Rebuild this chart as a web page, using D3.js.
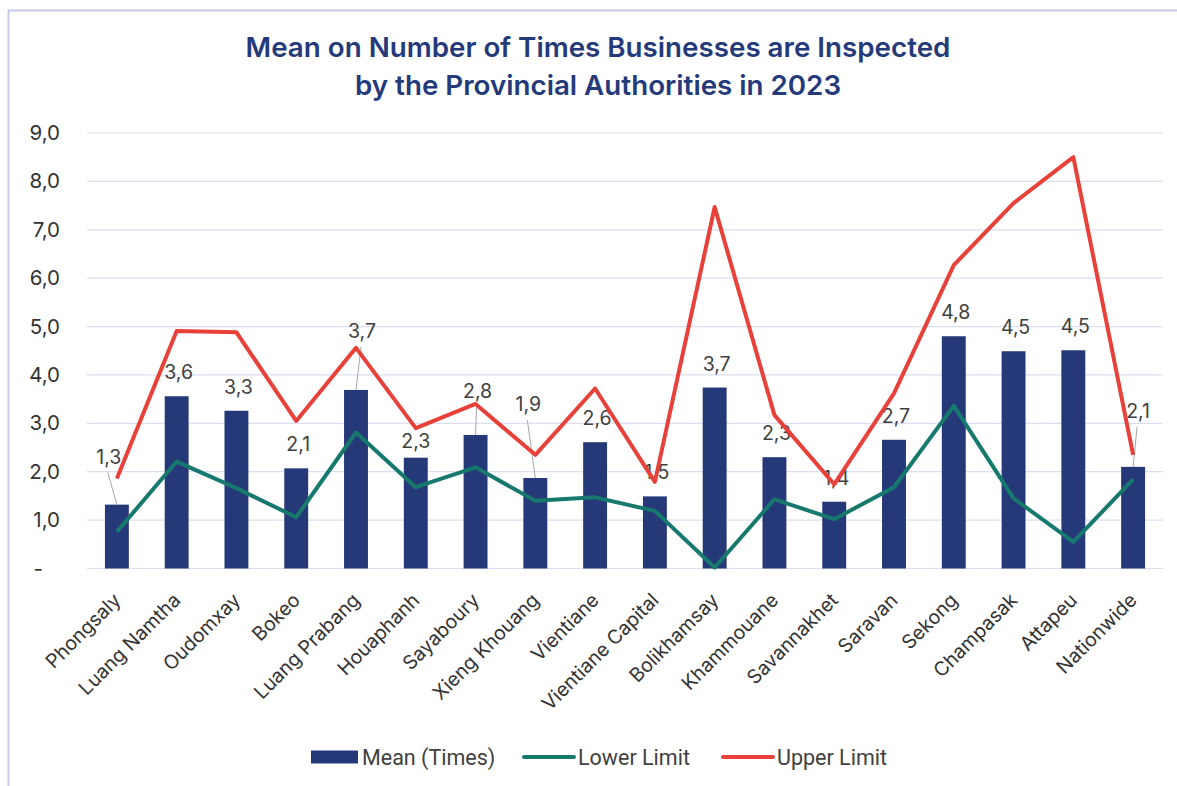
<!DOCTYPE html>
<html>
<head>
<meta charset="utf-8">
<script src="https://cdn.jsdelivr.net/npm/d3@7"></script>
<style>
  body { margin: 0; background: #fff; }
  svg { display: block; }
</style>
</head>
<body>
<svg id="chart"></svg>
<script>
// provinces, left to right
const categories = ['Phongsaly', 'Luang Namtha', 'Oudomxay', 'Bokeo', 'Luang Prabang', 'Houaphanh',
    'Sayaboury', 'Xieng Khouang', 'Vientiane', 'Vientiane Capital', 'Bolikhamsay', 'Khammouane',
    'Savannakhet', 'Saravan', 'Sekong', 'Champasak', 'Attapeu', 'Nationwide'];

const meanValues = [1.32, 3.56, 3.26, 2.07, 3.69, 2.29, 2.76, 1.87, 2.61, 1.49, 3.74, 2.30, 1.38, 2.66, 4.80, 4.49, 4.51, 2.10];
const lowerLimit = [0.76, 2.21, 1.66, 1.06, 2.81, 1.68, 2.09, 1.40, 1.47, 1.19, 0.02, 1.43, 1.02, 1.68, 3.36, 1.45, 0.55, 1.84];
const upperLimit = [1.86, 4.91, 4.88, 3.05, 4.56, 2.90, 3.40, 2.35, 3.72, 1.79, 7.47, 3.17, 1.74, 3.62, 6.27, 7.55, 8.50, 2.35];

const yTicks = [0, 1, 2, 3, 4, 5, 6, 7, 8, 9];
const seriesNames = ['Mean (Times)', 'Lower Limit', 'Upper Limit'];
const titleLines = ['Mean on Number of Times Businesses are Inspected', 'by the Provincial Authorities in 2023'];

// labels that were dragged away from the bar (with a leader line)
const labelMoves = {
    'Phongsaly': [-8, -41],
    'Luang Prabang': [6, -52],
    'Sayaboury': [2, -37],
    'Xieng Khouang': [-7, -67],
    'Nationwide': [5, -49],
    'Houaphanh': [0, -10]
};

let width = 1177;
let height = 786;
let navy = '#253878';
let teal = '#17796d';
let red = '#e8413a';
let grid = '#dcdff0';
let font = 'Inter, "Noto Sans", sans-serif';

let svg = d3.select('#chart').attr('width', width).attr('height', height);

// frame
svg.append('rect')
    .attr('x', 8.5).attr('y', 10.5)
    .attr('width', 1300).attr('height', 900)
    .attr('fill', '#fff')
    .attr('stroke', '#c6c9e5')
    .attr('stroke-width', 2);

/**
 * title
 */
let title = svg.append('g')
    .attr('font-family', font)
    .attr('font-weight', 600)
    .attr('fill', '#253a7a')
    .attr('text-anchor', 'middle');

title.selectAll('text')
    .data(titleLines)
    .enter()
    .append('text')
    .attr('x', 598)
    .attr('y', (d, i) => 57 + i * 38)
    .attr('font-size', 27)
    .text(d => d);

// fit first line to ~705px
let t0 = title.select('text').node().getComputedTextLength();
title.selectAll('text').attr('font-size', 27 * 705 / t0);

/**
 * scales
 */
let x = d3.scaleBand().domain(categories).range([87, 1163]).padding(0);
let y = d3.scaleLinear().domain([0, 9]).range([568.5, 133]);
let barW = x.bandwidth() * 0.4;
let cx = d => x(d) + x.bandwidth() / 2;

// grid
svg.append('g')
    .selectAll('line')
    .data(yTicks)
    .enter()
    .append('line')
    .attr('x1', 87).attr('x2', 1163)
    .attr('y1', d => y(d)).attr('y2', d => y(d))
    .attr('stroke', grid)
    .attr('stroke-width', 1.2);

// y axis
let yAxis = d3.axisLeft(y)
    .tickValues(yTicks)
    .tickSize(0)
    .tickPadding(27)
    .tickFormat(d => d === 0 ? '-' : d3.format('.1f')(d).replace('.', ','));

let yAxisLayer = svg.append('g')
    .attr('transform', 'translate(87,0)')
    .call(yAxis);
yAxisLayer.select('.domain').remove();
yAxisLayer.selectAll('text')
    .attr('font-family', font)
    .attr('font-size', 20.5)
    .attr('fill', '#333')
    .attr('dx', d => d === 0 ? -17 : 0);

// x labels
let xAxis = d3.axisBottom(x).tickSize(0).tickPadding(0);
let xAxisLayer = svg.append('g')
    .attr('transform', 'translate(0,568.5)')
    .call(xAxis);
xAxisLayer.select('.domain').remove();
xAxisLayer.selectAll('text')
    .attr('font-family', font)
    .attr('font-size', 19.5)
    .attr('fill', '#333')
    .attr('text-anchor', 'end')
    .attr('y', 0).attr('dy', 0)
    .attr('transform', 'translate(5,33) rotate(-45)');

/**
 * bars
 */
svg.append('g')
    .selectAll('rect')
    .data(meanValues)
    .enter()
    .append('rect')
    .attr('x', (d, i) => cx(categories[i]) - barW / 2)
    .attr('y', d => y(d))
    .attr('width', barW)
    .attr('height', d => y(0) - y(d))
    .attr('fill', navy);

// data labels
let labelPos = meanValues.map((d, i) => {
    let mv = labelMoves[categories[i]] || [2, -17];
    return { v: d, bx: cx(categories[i]), by: y(d), lx: cx(categories[i]) + mv[0], ly: y(d) + mv[1], moved: !!labelMoves[categories[i]] && mv[1] < -30 };
});

svg.append('g')
    .selectAll('line')
    .data(labelPos.filter(d => d.moved))
    .enter()
    .append('line')
    .attr('x1', d => d.lx - 1).attr('y1', d => d.ly + 9)
    .attr('x2', d => d.bx).attr('y2', d => d.by)
    .attr('stroke', '#a6a6a6')
    .attr('stroke-width', 1);

svg.append('g')
    .selectAll('text')
    .data(labelPos)
    .enter()
    .append('text')
    .attr('x', d => d.lx)
    .attr('y', d => d.ly)
    .attr('text-anchor', 'middle')
    .attr('font-family', font)
    .attr('font-size', 19.5)
    .attr('fill', '#404040')
    .text(d => d3.format('.1f')(d.v).replace('.', ','));

/**
 * limit lines
 */
let line = d3.line()
    .x((d, i) => cx(categories[i]))
    .y(d => y(d));

svg.append('path')
    .datum(lowerLimit)
    .attr('d', line)
    .attr('fill', 'none')
    .attr('stroke', teal)
    .attr('stroke-width', 4)
    .attr('stroke-linejoin', 'round');

svg.append('path')
    .datum(upperLimit)
    .attr('d', line)
    .attr('fill', 'none')
    .attr('stroke', red)
    .attr('stroke-width', 4)
    .attr('stroke-linejoin', 'round');

/**
 * legend
 */
let legend = svg.append('g').attr('font-family', 'Roboto, sans-serif').attr('font-size', 21.5).attr('fill', '#404040');
let legendX = [311, 524, 723];
let legendColors = [navy, teal, red];

seriesNames.forEach((name, i) => {
    let g = legend.append('g').attr('transform', `translate(${legendX[i]},757)`);
    if (i === 0) {
        g.append('rect').attr('x', 0).attr('y', -6.5).attr('width', 47).attr('height', 13).attr('fill', navy);
    } else {
        g.append('line').attr('x1', 0).attr('x2', 50).attr('y1', 0).attr('y2', 0)
            .attr('stroke', legendColors[i]).attr('stroke-width', 4).attr('stroke-linecap', 'round');
    }
    g.append('text')
        .attr('x', i === 0 ? 51 : 54)
        .attr('y', 7.5)
        .text(name);
});
</script>
</body>
</html>
